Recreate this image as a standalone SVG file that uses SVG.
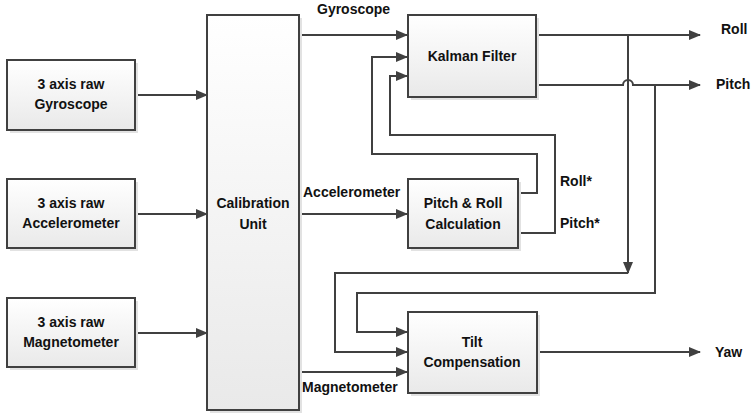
<svg xmlns="http://www.w3.org/2000/svg" width="752" height="414" viewBox="0 0 752 414">
<defs>
<linearGradient id="bf" x1="0" y1="0" x2="0" y2="1">
<stop offset="0" stop-color="#ffffff"/>
<stop offset="1" stop-color="#e9e9e9"/>
</linearGradient>
<marker id="ah" markerUnits="userSpaceOnUse" markerWidth="12" markerHeight="10" refX="11" refY="5" orient="auto">
<path d="M0,0 L12,5 L0,10 z" fill="#404040"/>
</marker>
<style>
.box{fill:url(#bf);stroke:#404040;stroke-width:2}
.sh{fill:#e2e2e2}
.t{font-family:"Liberation Sans",Arial,sans-serif;font-weight:bold;font-size:14px;fill:#111;text-anchor:middle}
.l{font-family:"Liberation Sans",Arial,sans-serif;font-weight:bold;font-size:14px;fill:#111}
.c{fill:none;stroke:#404040;stroke-width:2}
.a{marker-end:url(#ah)}
</style>
</defs>
<rect width="752" height="414" fill="#fff"/>
<g id="connectors">
<path class="c a" d="M135,95 H207"/>
<path class="c a" d="M135,214 H207"/>
<path class="c a" d="M135,333 H207"/>
<path class="c a" d="M299,35 H407"/>
<path class="c a" d="M299,214 H407"/>
<path class="c a" d="M299,372 H407"/>
<path class="c a" d="M518,193 H537 V154 H372 V57 H407"/>
<path class="c a" d="M518,233 H555 V135 H390 V76 H407"/>
<path class="c a" d="M536,35 H700"/>
<path class="c a" d="M536,85 H623 A5,5 0 0 1 633,85 H700"/>
<path class="c a" d="M628,35 V273"/>
<path class="c a" d="M628,273 H335 V352 H407"/>
<path class="c a" d="M655,85 V293 H357 V332 H407"/>
<path class="c a" d="M537,352 H700"/>
</g>
<g id="gyro">
<rect class="sh" x="10" y="63" width="128" height="70"/>
<rect class="box" x="7" y="60" width="128" height="70"/>
<text class="t" x="71" y="89">3 axis raw</text>
<text class="t" x="71" y="109">Gyroscope</text>
</g>
<g id="accel">
<rect class="sh" x="10" y="182" width="128" height="69"/>
<rect class="box" x="7" y="179" width="128" height="69"/>
<text class="t" x="71" y="208">3 axis raw</text>
<text class="t" x="71" y="228">Accelerometer</text>
</g>
<g id="mag">
<rect class="sh" x="10" y="301" width="128" height="69"/>
<rect class="box" x="7" y="298" width="128" height="69"/>
<text class="t" x="71" y="327">3 axis raw</text>
<text class="t" x="71" y="347">Magnetometer</text>
</g>
<g id="calib">
<rect class="sh" x="210" y="18" width="92" height="395"/>
<rect class="box" x="207" y="15" width="92" height="395"/>
<text class="t" x="253" y="208">Calibration</text>
<text class="t" x="253" y="229">Unit</text>
</g>
<g id="kalman">
<rect class="sh" x="411" y="18" width="128" height="82"/>
<rect class="box" x="408" y="15" width="128" height="82"/>
<text class="t" x="472" y="61">Kalman Filter</text>
</g>
<g id="pitchroll">
<rect class="sh" x="411" y="182" width="110" height="69"/>
<rect class="box" x="408" y="179" width="110" height="69"/>
<text class="t" x="463" y="208">Pitch &amp; Roll</text>
<text class="t" x="463" y="229">Calculation</text>
</g>
<g id="tilt">
<rect class="sh" x="411" y="315" width="129" height="81"/>
<rect class="box" x="408" y="312" width="129" height="81"/>
<text class="t" x="472" y="347">Tilt</text>
<text class="t" x="472" y="367">Compensation</text>
</g>
<g id="labels">
<text class="l" x="317" y="14">Gyroscope</text>
<text class="l" x="303" y="197">Accelerometer</text>
<text class="l" x="302" y="392">Magnetometer</text>
<text class="l" x="560" y="186">Roll*</text>
<text class="l" x="560" y="228">Pitch*</text>
<text class="l" x="721" y="34">Roll</text>
<text class="l" x="716" y="89">Pitch</text>
<text class="l" x="715" y="357">Yaw</text>
</g>
</svg>
